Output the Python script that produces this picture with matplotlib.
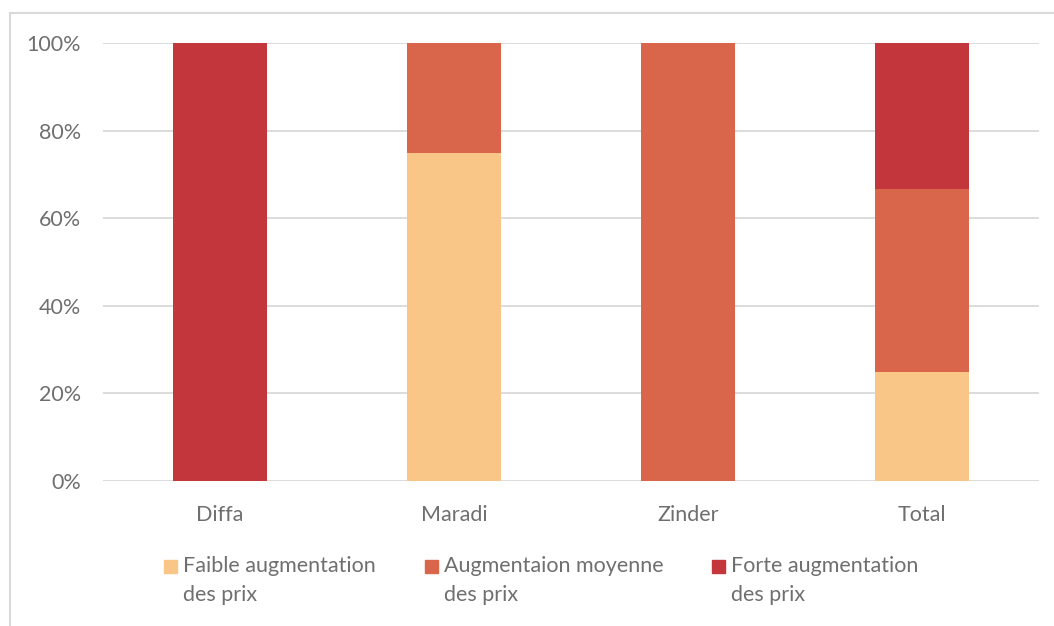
import matplotlib
matplotlib.use("Agg")
import matplotlib.pyplot as plt
from matplotlib.lines import Line2D
from matplotlib.patches import Rectangle
import numpy as np

categories = ["Diffa", "Maradi", "Zinder", "Total"]
series_names = ["Faible augmentation\ndes prix", "Augmentaion moyenne\ndes prix", "Forte augmentation\ndes prix"]
faible = [0.0, 75.0, 0.0, 25.0]
moyenne = [0.0, 25.0, 100.0, 41.7]
forte = [100.0, 0.0, 0.0, 33.3]
colors = ["#FAC687", "#D9654B", "#C3363C"]
yticks = [0, 20, 40, 60, 80, 100]
ytick_labels = ["0%", "20%", "40%", "60%", "80%", "100%"]

plt.rcParams['font.family'] = ['Lato', 'DejaVu Sans']
TXT = "#6f6f6f"
FS = 15.5
W, H = 1054, 626
fig = plt.figure(figsize=(W/100, H/100), dpi=100)
ax = fig.add_axes([103/W, 1-481/H, (1039-103)/W, (481-43)/H])

x = np.arange(len(categories))
bottom = np.zeros(len(categories))
for vals, name, c in zip([faible, moyenne, forte], series_names, colors):
    ax.bar(x, vals, width=0.4, bottom=bottom, color=c, label=name, zorder=3)
    bottom += np.array(vals)

ax.set_xlim(-0.5, len(categories) - 0.5)
ax.set_ylim(0, 100)
ax.set_yticks(yticks)
ax.set_yticklabels(ytick_labels)
ax.set_xticks(x)
ax.set_xticklabels(categories)
ax.tick_params(axis='both', length=0, labelsize=FS, colors=TXT)
ax.tick_params(axis='y', pad=16)
ax.tick_params(axis='x', pad=17)
ax.grid(axis='y', color="#d9d9d9", linewidth=1.3, zorder=0)
for s in ax.spines.values():
    s.set_visible(False)

# manual legend (marker aligned with first text line)
leg_x = [164, 425, 712]
leg_y_top = 556
for lx, name, c in zip(leg_x, series_names, colors):
    fig.add_artist(Rectangle((lx/W, 1-573/H), 13/W, 13/H,
                             transform=fig.transFigure, color=c))
    fig.text((lx+19)/W, 1-leg_y_top/H, name, ha='left', va='top',
             fontsize=FS, color=TXT, linespacing=1.55)

# outer border lines
fig.add_artist(Line2D([10/W, 1], [1-13/H, 1-13/H], color="#d9d9d9", linewidth=1.5))
fig.add_artist(Line2D([10/W, 10/W], [0, 1-13/H], color="#d9d9d9", linewidth=1.5))

fig.savefig("out.png", dpi=100)
